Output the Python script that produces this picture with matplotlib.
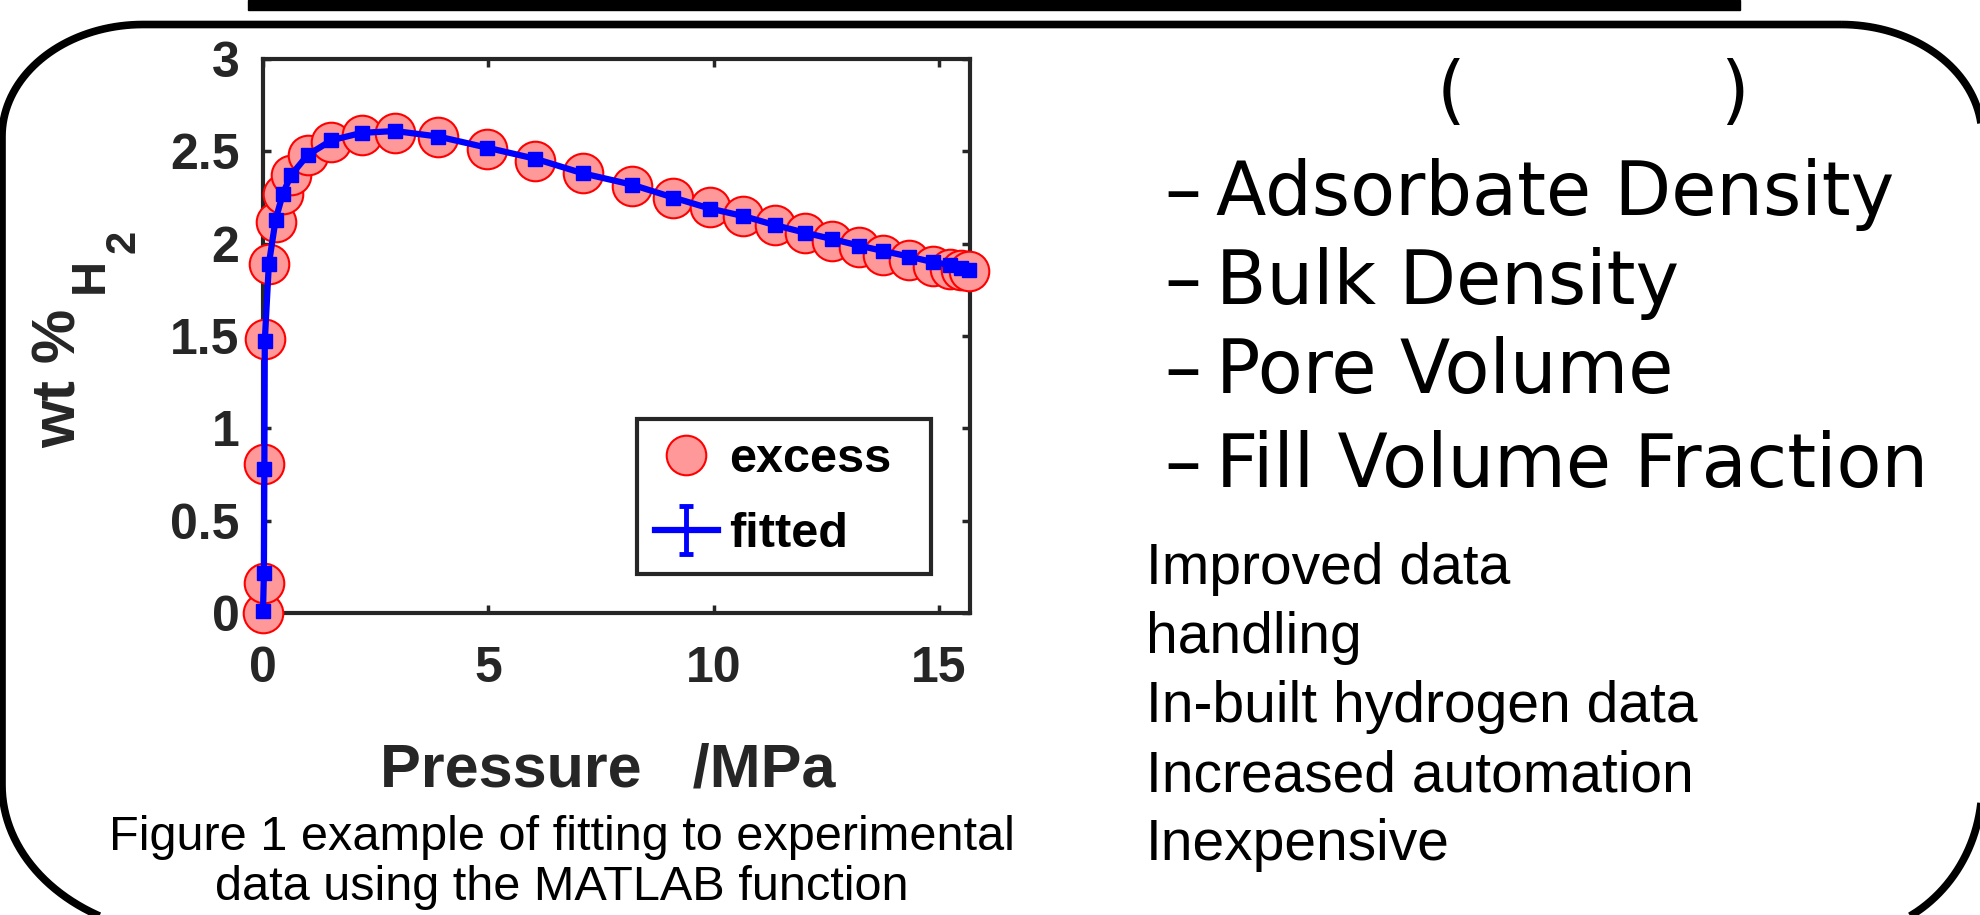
import numpy as np
import matplotlib
matplotlib.use('Agg')
import matplotlib.pyplot as plt
from matplotlib.lines import Line2D
from matplotlib.path import Path
from matplotlib.patches import PathPatch, Rectangle

plt.rcParams['font.family'] = ['Liberation Sans', 'DejaVu Sans']

# excess adsorption data (pressure MPa, wt % H2)
p_excess = [0.0, 0.02, 0.03, 0.04, 0.13, 0.28, 0.44, 0.62, 0.99, 1.52, 2.19, 2.93,
            3.89, 4.97, 6.04, 7.11, 8.18, 9.10, 9.92, 10.65, 11.37, 12.02, 12.63,
            13.22, 13.77, 14.34, 14.87, 15.25, 15.49, 15.66]
wt_excess = [0.0, 0.165, 0.805, 1.484, 1.89, 2.12, 2.27, 2.37, 2.48, 2.55, 2.59, 2.60,
             2.58, 2.515, 2.45, 2.38, 2.31, 2.25, 2.20, 2.15, 2.10, 2.06, 2.015,
             1.98, 1.94, 1.91, 1.88, 1.865, 1.855, 1.853]
# fitted curve at the same pressures
wt_fitted = [0.01, 0.215, 0.78, 1.475, 1.89, 2.13, 2.27, 2.37, 2.48, 2.56, 2.60, 2.61,
             2.58, 2.52, 2.46, 2.38, 2.32, 2.25, 2.19, 2.15, 2.10, 2.06, 2.025,
             1.99, 1.96, 1.93, 1.90, 1.885, 1.87, 1.86]

xticks = [0, 5, 10, 15]
yticks = [0, 0.5, 1, 1.5, 2, 2.5, 3]
ytick_labels = ['0', '0.5', '1', '1.5', '2', '2.5', '3']

bullets = ['Adsorbate Density', 'Bulk Density', 'Pore Volume', 'Fill Volume Fraction']
features = ['Improved data', 'handling', 'In-built hydrogen data',
            'Increased automation', 'Inexpensive']
caption = ['Figure 1 example of fitting to experimental',
           'data using the MATLAB function']

W, H = 1981, 915
fig = plt.figure(figsize=(W / 100, H / 100), dpi=100)

# background layer in pixel coordinates (y pointing down)
bg = fig.add_axes([0, 0, 1, 1])
bg.set_xlim(0, W)
bg.set_ylim(H, 0)
bg.axis('off')

# rounded frame of the poster panel
x0, x1, top, bot = 2, 1982, 24.5, 935
rxt, ryt, rxb, ryb = 141, 112, 190, 150
def corner(cx, cy, rx, ry, a0, a1):
    t = np.radians(np.linspace(a0, a1, 40))
    return list(zip(cx + rx * np.cos(t), cy - ry * np.sin(t)))
pts = []
pts += corner(x1 - rxt, top + ryt, rxt, ryt, 90, 0)
pts += corner(x1 - 140, bot - ryb, 140, ryb, 0, -90)
pts += corner(x0 + rxb, bot - ryb, rxb, ryb, -90, -180)
pts += corner(x0 + rxt, top + ryt, rxt, ryt, 180, 90)
pts.append(pts[0])
bg.add_patch(PathPatch(Path(pts), fill=False, lw=5.5, ec='black', clip_on=False))

# underline of the cut-off heading
bg.add_patch(Rectangle((248, 0), 1492, 10, color='black'))

# y label pieces
lab = dict(rotation=90, rotation_mode='anchor', ha='left', va='baseline',
           fontweight='bold', color='#262626')
bg.text(76, 448, 'wt %', fontsize=44, **lab)
bg.text(103, 293, 'H', fontsize=35, **lab)
bg.text(135, 253, '2', fontsize=30, **lab)

# caption
for txt, yb in zip(caption, [850, 900]):
    bg.text(562, yb, txt, fontsize=35, ha='center', va='baseline', color='black')

# right-hand text
bg.text(1437, 115, '(', fontsize=53, family='DejaVu Sans', va='baseline')
bg.text(1720, 115, ')', fontsize=53, family='DejaVu Sans', va='baseline')
for txt, yb in zip(bullets, [215, 304, 393, 487]):
    bg.text(1164, yb, '\u2013', fontsize=53, family='DejaVu Sans', va='baseline')
    bg.text(1216, yb, txt, fontsize=53, family='DejaVu Sans', va='baseline')
for i, txt in enumerate(features):
    bg.text(1146, 584 + 69 * i, txt, fontsize=41, va='baseline')

# main chart
ax = fig.add_axes([263 / W, (H - 613) / H, 707 / W, 554 / H])
ax.plot(p_excess, wt_excess, ls='none', marker='o', ms=28.5, mfc=(1, 0.6, 0.6),
        mec='red', mew=1.5, clip_on=False, zorder=3)
ax.plot(p_excess, wt_fitted, '-s', color='blue', lw=4.5, ms=9.5, clip_on=False, zorder=4)

ax.set_xlim(0, 15.69)
ax.set_ylim(0, 3)
ax.set_xticks(xticks, labels=[str(v) for v in xticks])
ax.set_yticks(yticks, labels=ytick_labels)
ax.tick_params(direction='in', length=6, width=2.5, top=True, right=True,
               labelsize=36, color='#262626', labelcolor='#262626')
ax.tick_params(axis='x', pad=24)
ax.tick_params(axis='y', pad=17)
for lbl in ax.get_xticklabels() + ax.get_yticklabels():
    lbl.set_fontweight('bold')
for s in ax.spines.values():
    s.set_linewidth(3)
    s.set_color('#262626')

ax.set_xlabel('Pressure   /MPa', fontsize=44, fontweight='bold', color='#262626',
              va='baseline')
ax.xaxis.set_label_coords((608 - 263) / 707, (613 - 786) / 554)

# legend: circle for excess, line with error bar for fitted
h_exc = Line2D([], [], ls='none', marker='o', ms=28.5, mfc=(1, 0.6, 0.6), mec='red', mew=1.5)
h_line = Line2D([], [], color='blue', lw=4.5)
ebar = Path([(0, -1), (0, 1), (-0.3, 1), (0.3, 1), (-0.3, -1), (0.3, -1)],
            [Path.MOVETO, Path.LINETO, Path.MOVETO, Path.LINETO, Path.MOVETO, Path.LINETO])
h_bar = Line2D([], [], ls='none', marker=ebar, ms=34, mfc='none', mec='blue', mew=3.5)
leg = ax.legend([h_exc, (h_line, h_bar)], ['excess', 'fitted'],
                loc='lower left', bbox_to_anchor=(0.529, 0.070, 0.4158, 0.29),
                mode='expand', borderaxespad=0,
                prop={'size': 35, 'weight': 'bold'}, fancybox=False, framealpha=1,
                edgecolor='#262626', handlelength=1.3, handletextpad=0.23,
                borderpad=0.36, labelspacing=0.62)
leg.get_frame().set_linewidth(3)

fig.savefig('out.png', dpi=100)
